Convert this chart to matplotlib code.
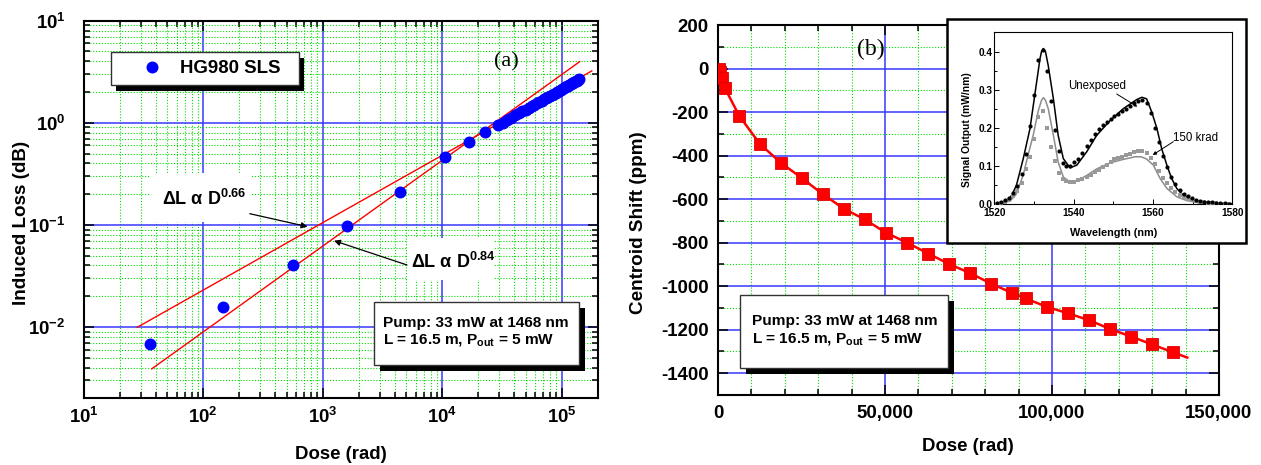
import numpy as np
import matplotlib
matplotlib.use("Agg")
import matplotlib.pyplot as plt
from matplotlib.patches import Rectangle, FancyArrowPatch
from matplotlib.ticker import (LogLocator, MultipleLocator, FuncFormatter,
                               NullFormatter, FormatStrFormatter)

# ---------------- data ----------------
# (a) induced loss vs dose
dose_a = [36, 147, 564, 1600, 4420, 10500, 16900, 23000, 29400,
          32000, 35000, 38000, 41000, 44000, 47000, 50000, 53000, 56000,
          59000, 62000, 65000, 68000, 71000, 74000, 77000, 80000, 83000,
          86000, 89000, 92000, 95000, 98000, 101000, 104000, 107000, 110000,
          113000, 116000, 119000, 122000, 125000, 128000, 131000, 134000,
          137000, 140000]
loss_a = [0.0068, 0.0157, 0.040, 0.098, 0.209, 0.458, 0.647, 0.805, 0.95,
          1.005, 1.066, 1.125, 1.183, 1.240, 1.295, 1.349, 1.402, 1.453,
          1.505, 1.555, 1.604, 1.652, 1.700, 1.747, 1.794, 1.839, 1.885,
          1.929, 1.974, 2.017, 2.060, 2.103, 2.145, 2.187, 2.228, 2.269,
          2.310, 2.350, 2.390, 2.430, 2.469, 2.508, 2.547, 2.585,
          2.623, 2.661]
series_a = "HG980 SLS"
fit_exp = [0.66, 0.84]
fit_coef = [1.10e-3, 1.87e-4]
fit_lo = [28, 37]
fit_hi = [179000, 141500]
fit_labels = ["\u0394L \u03b1 D$^{\\mathdefault{0.66}}$",
              "\u0394L \u03b1 D$^{\\mathdefault{0.84}}$"]

# (b) centroid shift vs dose
dose_b = [150, 700, 1300, 2100, 6340, 12560, 18900, 25240, 31340, 37680,
          43900, 50240, 56590, 62930, 69270, 75370, 81700, 88050, 92070,
          98410, 104880, 111220, 117440, 123780, 129880, 136220]
shift_b = [0, -15, -45, -91, -217, -347, -434, -505, -577, -644, -693,
           -754, -800, -850, -899, -939, -988, -1031, -1056, -1095, -1125,
           -1157, -1197, -1232, -1267, -1304]
fit_end_dose = 140500

# inset: signal output spectra
wl_meas = [1520.6, 1521.6, 1522.7, 1523.7, 1524.8, 1525.8, 1526.9, 1528.0,
           1529.0, 1530.0, 1531.1, 1532.2, 1533.2, 1534.2, 1535.2, 1536.2,
           1537.2, 1538.2, 1539.2, 1540.2, 1541.2, 1542.2, 1543.3, 1544.3,
           1545.3, 1546.3, 1547.3, 1548.3, 1549.3, 1550.3, 1551.3, 1552.3,
           1553.3, 1554.3, 1555.3, 1556.3, 1557.3, 1558.4, 1559.4, 1560.4,
           1561.5, 1562.5, 1563.5, 1564.6, 1565.6, 1566.7, 1567.7, 1568.8,
           1569.8, 1570.8, 1571.9, 1572.9, 1573.9, 1575.0, 1576.0, 1577.0,
           1578.1, 1579.1]
unexp_meas = [0.002, 0.004, 0.010, 0.016, 0.028, 0.047, 0.078, 0.132, 0.204,
              0.286, 0.378, 0.404, 0.350, 0.270, 0.195, 0.138, 0.108, 0.099,
              0.099, 0.110, 0.119, 0.134, 0.152, 0.168, 0.183, 0.196, 0.206,
              0.215, 0.222, 0.232, 0.237, 0.244, 0.250, 0.256, 0.264, 0.271,
              0.274, 0.266, 0.238, 0.200, 0.162, 0.127, 0.097, 0.072, 0.052,
              0.037, 0.027, 0.020, 0.015, 0.011, 0.008, 0.006, 0.005, 0.004,
              0.003, 0.002, 0.002, 0.001]
krad_meas = [0.001, 0.003, 0.006, 0.011, 0.020, 0.035, 0.055, 0.091, 0.123,
             0.171, 0.228, 0.245, 0.200, 0.150, 0.112, 0.082, 0.066, 0.060,
             0.057, 0.058, 0.062, 0.066, 0.070, 0.075, 0.083, 0.090, 0.097,
             0.103, 0.109, 0.117, 0.121, 0.124, 0.128, 0.132, 0.137, 0.140,
             0.139, 0.133, 0.120, 0.104, 0.086, 0.069, 0.054, 0.042, 0.032,
             0.024, 0.018, 0.013, 0.010, 0.007, 0.005, 0.004, 0.003, 0.002,
             0.002, 0.001, 0.001, 0.001]
wl_model_u = [1520, 1522, 1523.5, 1524.5, 1525.6, 1527.3, 1529.0, 1530.3,
              1531.5, 1531.9, 1532.35, 1532.9, 1533.6, 1534.9, 1536.1, 1537.4,
              1539.1, 1540.8, 1543.3, 1545.8, 1549.2, 1552.5, 1555.9, 1557.2,
              1558.4, 1559.7, 1561.0, 1562.2, 1563.5, 1564.7, 1566.0, 1567.6,
              1570.2, 1574.4, 1580]
model_u = [0.0, 0.003, 0.010, 0.025, 0.050, 0.119, 0.198, 0.293, 0.380,
           0.400, 0.408, 0.400, 0.363, 0.276, 0.180, 0.119, 0.095, 0.102,
           0.137, 0.180, 0.219, 0.250, 0.274, 0.280, 0.276, 0.241, 0.198,
           0.145, 0.102, 0.067, 0.041, 0.023, 0.010, 0.003, 0.001]
wl_model_k = [1520, 1522, 1524, 1525.5, 1527.3, 1528.5, 1529.8, 1531.1,
              1531.9, 1532.4, 1532.9, 1533.6, 1534.9, 1536.1, 1537.4, 1539.1,
              1540.8, 1543.3, 1545.8, 1549.2, 1552.5, 1555.5, 1557.0, 1558.4,
              1560.1, 1561.8, 1563.5, 1566.0, 1568.5, 1572.0, 1580]
model_k = [0.0, 0.002, 0.008, 0.025, 0.076, 0.128, 0.180, 0.245, 0.272,
           0.279, 0.272, 0.250, 0.180, 0.110, 0.071, 0.057, 0.060, 0.075,
           0.092, 0.108, 0.117, 0.124, 0.124, 0.118, 0.102, 0.067, 0.041,
           0.019, 0.009, 0.002, 0.0]

box_lines = ["Pump: 33 mW at 1468 nm",
             "L = 16.5 m, P$_{\\mathdefault{out}}$ = 5 mW"]

# ---------------- style ----------------
plt.rcParams["font.family"] = ["Liberation Sans", "DejaVu Sans"]
plt.rcParams["font.weight"] = "bold"

W, H = 1261, 465
fig = plt.figure(figsize=(W / 100, H / 100), dpi=100)


def fxy(x, y):
    return (x / W, 1 - y / H)


def frect(x0, y0, x1, y1):
    return [x0 / W, 1 - y1 / H, (x1 - x0) / W, (y1 - y0) / H]


BLUE_GRID = "#3838ff"
GREEN_GRID = "#00dd00"
GREEN_LS = (0, (1, 1.6))


def style_grid(ax):
    ax.set_axisbelow(True)
    ax.grid(which="minor", color=GREEN_GRID, ls=GREEN_LS, lw=0.8)
    ax.grid(which="major", color=BLUE_GRID, lw=1.1, ls="-")
    for s in ax.spines.values():
        s.set_linewidth(1.5)
    ax.tick_params(which="both", direction="in", top=True, right=True,
                   width=1.1, labelsize=13.4)
    ax.tick_params(which="major", length=7)
    ax.tick_params(which="minor", length=4)


# ---------------- panel (a) ----------------
axA = fig.add_axes(frect(83.8, 20.7, 597.6, 398.3))
axA.set_xscale("log")
axA.set_yscale("log")
axA.set_xlim(10, 2e5)
axA.set_ylim(2e-3, 10)
axA.xaxis.set_major_locator(LogLocator(base=10, numticks=12))
axA.yaxis.set_major_locator(LogLocator(base=10, numticks=12))
axA.xaxis.set_minor_locator(LogLocator(base=10, subs=np.arange(2, 10), numticks=12))
axA.yaxis.set_minor_locator(LogLocator(base=10, subs=np.arange(2, 10), numticks=12))
axA.xaxis.set_minor_formatter(NullFormatter())
axA.yaxis.set_minor_formatter(NullFormatter())
style_grid(axA)
axA.tick_params(axis="y", pad=13)
axA.tick_params(axis="x", pad=6)

for i in range(len(fit_exp)):
    xs = np.geomspace(fit_lo[i], fit_hi[i], 50)
    axA.plot(xs, fit_coef[i] * xs ** fit_exp[i], color="#ff0000", lw=1.0,
             zorder=3)
ptsA, = axA.plot(dose_a, loss_a, "o", color="#0000ff", ms=8.6, mew=0,
                 zorder=4, label=series_a)

axA.set_xlabel("Dose (rad)", fontsize=13.4, fontweight="bold", va="center")
axA.xaxis.set_label_coords(0.5006, -0.150)
axA.set_ylabel("Induced Loss (dB)", fontsize=13.6, fontweight="bold",
               va="center")
axA.yaxis.set_label_coords(-0.1222, 0.4656)

fig.text(*fxy(506.7, 62), "(a)", family=["Liberation Serif", "DejaVu Serif"],
         weight="normal", fontsize=16, ha="center", va="center")

# legend box with shadow
fig.add_artist(Rectangle(fxy(116, 91), (299.3 - 111) / W, (85 - 52.3) / H,
                         transform=fig.transFigure, fc="black", ec="none",
                         zorder=1))
fig.add_artist(Rectangle(fxy(111, 85), (299.3 - 111) / W, (85 - 52.3) / H,
                         transform=fig.transFigure, fc="white", ec="#333333",
                         lw=1.0, zorder=1.1))
leg = fig.legend([ptsA], [series_a], loc="center left",
                 bbox_to_anchor=fxy(142.4, 68.8), frameon=False,
                 handlelength=1.0, handletextpad=1.02, borderpad=0,
                 borderaxespad=0, numpoints=1,
                 prop=dict(weight="bold", size=13.4))
leg.set_zorder(5)

# white boxes + fit annotations
for (x0, y0, x1, y1) in [(150, 173, 251, 222), (407, 238, 494, 280)]:
    fig.add_artist(Rectangle(fxy(x0, y1), (x1 - x0) / W, (y1 - y0) / H,
                             transform=fig.transFigure, fc="white",
                             ec="none", zorder=1))
fig.text(*fxy(162, 205), fit_labels[0], fontsize=13, fontweight="bold",
         ha="left", va="baseline", zorder=5)
fig.text(*fxy(411, 268), fit_labels[1], fontsize=13, fontweight="bold",
         ha="left", va="baseline", zorder=5)
for (p0, p1) in [((249.8, 213.7), (307.5, 226.7)),
                 ((407, 265), (334, 240.7))]:
    fig.add_artist(FancyArrowPatch(fxy(*p0), fxy(*p1),
                                   transform=fig.transFigure,
                                   arrowstyle="-|>", mutation_scale=9,
                                   lw=0.9, color="black", zorder=6,
                                   shrinkA=0, shrinkB=0))


def pump_box(x0, y0, x1, y1, tx, ty1, ty2):
    fig.add_artist(Rectangle(fxy(x0 + 6, y1 + 6), (x1 - x0) / W,
                             (y1 - y0) / H, transform=fig.transFigure,
                             fc="black", ec="none", zorder=1))
    fig.add_artist(Rectangle(fxy(x0, y1), (x1 - x0) / W, (y1 - y0) / H,
                             transform=fig.transFigure, fc="white",
                             ec="#333333", lw=1.0, zorder=1.1))
    fig.text(*fxy(tx, ty1), box_lines[0], fontsize=11.1, fontweight="bold",
             ha="left", va="center", zorder=5)
    fig.text(*fxy(tx, ty2), box_lines[1], fontsize=11.1, fontweight="bold",
             ha="left", va="center", zorder=5)


pump_box(374.3, 302.3, 579, 365, 382.6, 322.5, 341.0)

# ---------------- panel (b) ----------------
axB = fig.add_axes(frect(718, 25, 1219, 395))
axB.set_xlim(0, 150000)
axB.set_ylim(-1500, 200)
axB.xaxis.set_major_locator(MultipleLocator(50000))
axB.xaxis.set_minor_locator(MultipleLocator(10000))
axB.yaxis.set_major_locator(MultipleLocator(200))
axB.yaxis.set_minor_locator(MultipleLocator(100))
axB.xaxis.set_major_formatter(FuncFormatter(lambda v, _: f"{int(round(v)):,}"))
axB.yaxis.set_major_formatter(FuncFormatter(lambda v, _: f"{int(round(v))}"))
style_grid(axB)
axB.tick_params(axis="y", pad=6.5)
axB.tick_params(axis="x", pad=7)

slope, icpt = np.polyfit(dose_b[-4:], shift_b[-4:], 1)
line_x = list(dose_b) + [fit_end_dose]
line_y = list(shift_b) + [slope * fit_end_dose + icpt]
axB.plot(line_x, line_y, color="#ff0000", lw=1.8, zorder=3)
axB.plot(dose_b, shift_b, "s", color="#ff0000", mec="#dd0000", mew=0.6,
         ms=8.6, zorder=4)

axB.set_xlabel("Dose (rad)", fontsize=13.4, fontweight="bold", va="center")
axB.xaxis.set_label_coords(0.499, -0.1405)
axB.set_ylabel("Centroid Shift (ppm)", fontsize=13.6, fontweight="bold",
               va="center")
axB.yaxis.set_label_coords(-0.1577, 0.4649)

fig.text(*fxy(871, 49), "(b)", family=["Liberation Serif", "DejaVu Serif"],
         weight="normal", fontsize=17, ha="center", va="center")

pump_box(740.4, 295, 947.8, 368.3, 751.8, 320.5, 340.0)

# ---------------- inset ----------------
fig.add_artist(Rectangle(fxy(947.3, 243.5), (1246 - 947.3) / W,
                         (243.5 - 19.3) / H, transform=fig.transFigure,
                         fc="white", ec="black", lw=1.8, zorder=1))
axI = fig.add_axes(frect(994.3, 32.5, 1232.3, 204), zorder=2)
axI.set_xlim(1520, 1580)
axI.set_ylim(0, 0.45)
axI.xaxis.set_major_locator(MultipleLocator(20))
axI.xaxis.set_minor_locator(MultipleLocator(10))
axI.yaxis.set_major_locator(MultipleLocator(0.1))
axI.yaxis.set_minor_locator(MultipleLocator(0.05))
axI.yaxis.set_major_formatter(FormatStrFormatter("%.1f"))
axI.tick_params(which="both", direction="in", labelsize=7.3, width=0.7)
axI.tick_params(which="major", length=3.5)
axI.tick_params(which="minor", length=2)
axI.tick_params(axis="x", pad=3)
axI.tick_params(axis="y", pad=1.5)
for s in axI.spines.values():
    s.set_linewidth(0.8)

axI.plot(wl_model_k, model_k, color="#8c8c8c", lw=1.1, zorder=2)
axI.plot(wl_meas, krad_meas, "s", color="#999999", ms=2.8, mew=0, zorder=3)
axI.plot(wl_model_u, model_u, color="black", lw=1.1, zorder=2)
axI.plot(wl_meas, unexp_meas, "o", color="black", ms=3.0, mew=0, zorder=3)

axI.set_xlabel("Wavelength (nm)", fontsize=7.8, fontweight="bold",
               va="center")
axI.xaxis.set_label_coords(0.5, -0.170)
axI.set_ylabel("Signal Output (mW/nm)", fontsize=7.4, fontweight="bold",
               va="center")
axI.yaxis.set_label_coords(-0.116, 0.431)

fig.text(*fxy(1068.3, 86), "Unexposed", fontsize=8.3, weight="normal",
         ha="left", va="center", zorder=6)
fig.text(*fxy(1173.3, 138), "150 krad", fontsize=8.3, weight="normal",
         ha="left", va="center", zorder=6)
fig.add_artist(FancyArrowPatch(fxy(1116.7, 94), fxy(1137.3, 106.7),
                               transform=fig.transFigure, arrowstyle="-|>",
                               mutation_scale=4, lw=0.7, color="black",
                               zorder=6, shrinkA=0, shrinkB=0))
fig.add_artist(FancyArrowPatch(fxy(1173.3, 141.7), fxy(1152.7, 155),
                               transform=fig.transFigure, arrowstyle="-|>",
                               mutation_scale=5, lw=0.7, color="black",
                               zorder=6, shrinkA=0, shrinkB=0))

fig.savefig("out.png", dpi=100)
